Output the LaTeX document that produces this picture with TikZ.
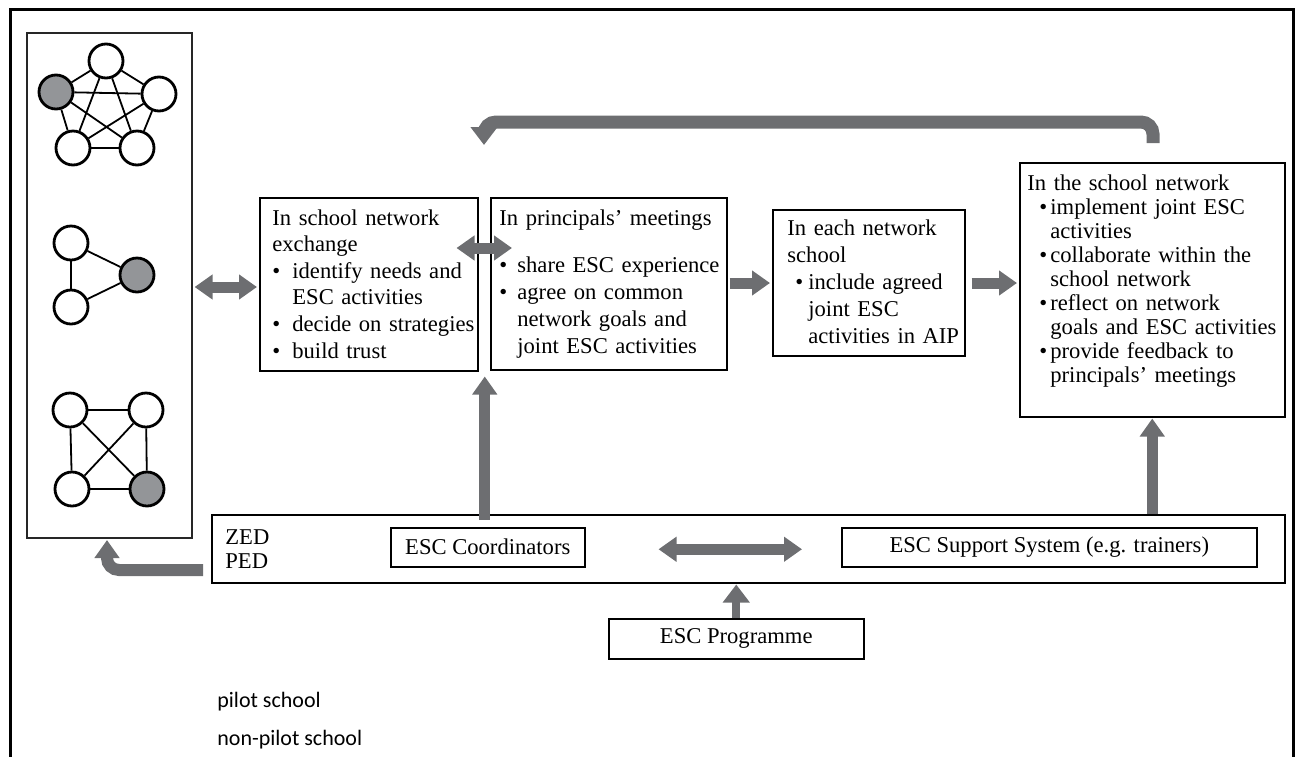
\documentclass[tikz,border=0pt]{standalone}
\usepackage{fontspec}
\setmainfont{Liberation Serif}
\newfontfamily\legendfont{Carlito}
\usetikzlibrary{arrows.meta,calc}
\definecolor{arrowgray}{RGB}{109,110,113}
\definecolor{pilotgray}{RGB}{147,149,152}
% bullet item: #1 bullet offset, #2 text indent, #3 text
\newcommand{\bitem}[3]{\par\hangindent=#2\hangafter=1\noindent\makebox[#2][l]{\hspace*{#1}\textbullet}\ignorespaces#3}
\tikzset{
  flowbox/.style={draw, line width=0.75pt, inner sep=0pt, anchor=north west},
  boxtext/.style={anchor=north west, inner sep=0pt, text width=150pt, align=left,
                  font=\fontsize{11.3}{13.3}\selectfont},
  school/.style={circle, draw, line width=1.4pt, fill=white, minimum size=17pt, inner sep=0pt},
  pilot/.style={school, fill=pilotgray},
  link/.style={line width=0.9pt},
  fat/.style={draw=arrowgray, line width=5.5pt, -{Triangle[width=12pt,length=9pt]}},
  fatboth/.style={draw=arrowgray, line width=5.5pt, {Triangle[width=12pt,length=9pt]}-{Triangle[width=12pt,length=9pt]}},
}
\begin{document}
\begin{tikzpicture}[x=0.5pt,y=-0.5pt]
\useasboundingbox (0,0) rectangle (1300,756);

% outer frame
\draw[line width=1.5pt] (10,757) -- (10,9) -- (1293,9) -- (1293,757);

% left panel with the three school networks
\node[flowbox, line width=0.8pt, draw=black!85, minimum width=82.5pt, minimum height=252.5pt] (panel) at (26,32) {};

% five-school network
\node[school] (a1) at (106,61) {};
\node[pilot]  (a2) at (56,92) {};
\node[school] (a3) at (159,94) {};
\node[school] (a4) at (73,148) {};
\node[school] (a5) at (137,148) {};
\foreach \u/\v in {a1/a2,a1/a3,a1/a4,a1/a5,a2/a3,a2/a4,a2/a5,a3/a4,a3/a5,a4/a5}
  \draw[link] (\u) -- (\v);

% three-school network
\node[school] (c1) at (71,243) {};
\node[pilot]  (c2) at (137,275) {};
\node[school] (c3) at (71,307) {};
\draw[link] (c1) -- (c2);
\draw[link] (c1) -- (c3);
\draw[link] (c3) -- (c2);

% four-school network
\node[school] (d1) at (70,410) {};
\node[school] (d2) at (146,410) {};
\node[school] (d3) at (72,489) {};
\node[pilot]  (d4) at (147,489) {};
\foreach \u/\v in {d1/d2,d1/d3,d2/d4,d3/d4,d1/d4,d2/d3}
  \draw[link] (\u) -- (\v);

% process boxes
\node[flowbox, minimum width=109pt, minimum height=86.5pt] (b1) at (259,197) {};
\node[flowbox, minimum width=118pt, minimum height=86pt] (b2) at (490,197) {};
\node[flowbox, minimum width=96pt, minimum height=73pt] (b3) at (772,209) {};
\node[flowbox, minimum width=132.5pt, minimum height=127pt] (b4) at (1019,162) {};

\node[boxtext] (t1) at (272,209) {In school network\newline exchange
  \bitem{0pt}{10pt}{identify needs and\newline ESC activities}
  \bitem{0pt}{10pt}{decide on strategies}
  \bitem{0pt}{10pt}{build trust}\par};

\node[boxtext, font=\fontsize{11.3}{13.5}\selectfont] (t2) at (499,209) {In principals’ meetings\par\vspace{10pt}
  \bitem{0pt}{9pt}{share ESC experience}
  \bitem{0pt}{9pt}{agree on common\newline network goals and\newline joint ESC activities}\par};

\node[boxtext, font=\fontsize{11.3}{13.5}\selectfont] (t3) at (787,219) {In each network\newline school
  \bitem{4pt}{10.5pt}{include agreed\newline joint ESC\newline activities in AIP}\par};

\node[boxtext, font=\fontsize{11.3}{12}\selectfont] (t4) at (1027,174) {In the school network
  \bitem{6pt}{11.5pt}{implement joint ESC\newline activities}
  \bitem{6pt}{11.5pt}{collaborate within the\newline school network}
  \bitem{6pt}{11.5pt}{reflect on network\newline goals and ESC activities}
  \bitem{6pt}{11.5pt}{provide feedback to\newline principals’ meetings}\par};

% authorities and support
\node[flowbox, minimum width=536.5pt, minimum height=34pt] (zed) at (211,514) {};
\node[boxtext, font=\fontsize{11.3}{12}\selectfont] (zedtext) at (225,529) {ZED\newline PED};
\node[flowbox, minimum width=97pt, minimum height=19.5pt] (coord) at (390,527) {};
\node[font=\fontsize{11.3}{13}\selectfont, inner sep=0pt] (coordtext) at (coord.center) {ESC Coordinators};
\node[flowbox, minimum width=207.5pt, minimum height=19.5pt] (supp) at (841,527) {};
\node[font=\fontsize{11.3}{13}\selectfont, inner sep=0pt] (supptext) at (supp.center) {ESC Support System (e.g. trainers)};
\node[flowbox, minimum width=127.5pt, minimum height=20pt] (prog) at (608,618) {};
\node[font=\fontsize{11.3}{13}\selectfont, inner sep=0pt] (progtext) at (prog.center) {ESC Programme};

% legend
\node[anchor=base west, inner sep=0pt, font=\legendfont\fontsize{11}{13}\selectfont] (lg1) at (217,707) {pilot school};
\node[anchor=base west, inner sep=0pt, font=\legendfont\fontsize{11}{13}\selectfont] (lg2) at (217,745) {non-pilot school};

% connectors
\draw[fatboth] ($(panel.east |- 0,287)+(2,0)$) -- ($(b1.west |- 0,287)+(-2,0)$);
\draw[fatboth] ($(b1.east |- 0,248)+(-22,0)$) -- ($(b2.west |- 0,248)+(22,0)$);
\draw[fat] ($(b2.east |- 0,283)+(2,0)$) -- ($(b3.west |- 0,283)+(-2,0)$);
\draw[fat] ($(b3.east |- 0,283)+(6,0)$) -- ($(b4.west |- 0,283)+(-2,0)$);
\draw[fat] ($(coord.north |- zed.north)+(-3,6)$) -- ($(coord.north |- b1.south)+(-3,5)$);
\draw[fat] (b4.south |- zed.north) -- ($(b4.south)+(0,1)$);
\draw[fat, line width=4pt, -{Triangle[width=13pt,length=9pt]}] (prog.north) -- ($(prog.north |- zed.south)+(0,1)$);
\draw[fatboth] ($(coord.east)+(73,2)$) -- ($(supp.west)+(-39,2)$);

% feedback loop back to the start
\coordinate (fbS) at (1153,143);
\coordinate (fbE) at (484,145);
\draw[fat, line width=6.5pt, rounded corners=6pt, -{Triangle[width=13pt,length=9pt]}]
  (fbS) -- (fbS |- 0,122) -- (fbE |- 0,122) -- (fbE);

% authorities back to the school networks
\coordinate (zS) at (203,570);
\coordinate (zE) at (107,540);
\draw[fat, line width=6pt, rounded corners=6pt] (zS) -- (zE |- zS) -- (zE);
\end{tikzpicture}
\end{document}
